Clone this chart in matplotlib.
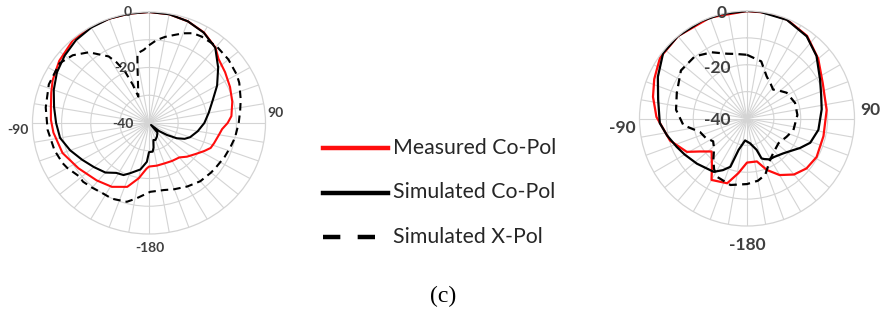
import numpy as np
import matplotlib
matplotlib.use("Agg")
import matplotlib.pyplot as plt
from matplotlib.lines import Line2D

W, H = 883, 321

# ---- left pattern (angles in deg, clockwise from top; values in dB) ----
l_meas_ang = [0, 10, 20, 30, 40, 46, 55, 65, 75, 85, 90, 95, 100, 108, 113, 118, 125,
              133, 140, 150, 160, 170, 180, 183, 190, 198, 209, 221, 236, 250, 264,
              272, 280, 288, 295, 306, 319, 330, 340, 350, 360]
l_meas_db = [0, -0.2, -1.0, -2.3, -4.5, -6.8, -8.1, -9.3, -10.4, -11.6, -13.0, -14.8,
             -15.6, -16.5, -17.0, -18.5, -20.5, -22.2, -23.8, -24.2, -24.5, -24.4, -24.3,
             -23.5, -19.8, -15.8, -13.7, -12.6, -10.8, -8.4, -7.0, -6.3, -5.8, -4.7,
             -3.5, -1.9, -0.3, 0, 0, 0, 0]

l_sim_ang = [0, 10, 20, 30, 40, 50, 60, 70, 80, 90, 100, 110, 115, 120, 125, 130, 135,
             140, 150, 160, 166, 170, 173, 180, 183, 190, 200, 205, 212, 220, 230, 240,
             250, 260, 270, 280, 290, 300, 310, 320, 330, 340, 350, 360]
l_sim_db = [0, -0.2, -1.0, -2.4, -4.6, -9.0, -13.0, -16.8, -19.2, -21.0, -23.0, -25.0,
            -26.5, -29.0, -32.5, -35.5, -39.0, -35.5, -34.5, -33.5, -33.7, -31.0, -29.6,
            -29.5, -26.0, -23.0, -20.7, -19.3, -18.8, -16.7, -15.3, -13.5, -11.2, -9.0,
            -8.1, -6.9, -5.2, -3.5, -2.2, -1.0, -0.3, 0, 0, 0]

l_xpol_ang = [0, 5, 10, 15, 20, 25, 30, 40, 50, 60, 65, 75, 82, 90, 100, 107, 115, 125,
              130, 140, 150, 160, 168, 179, 189, 195, 205, 212, 220, 227, 231, 240, 244,
              253, 266, 279, 292, 305, 313, 321, 330, 333, 336, 338, 339, 344, 349, 351,
              356, 360]
l_xpol_db = [-12.0, -10.0, -8.5, -7.2, -5.6, -4.3, -4.0, -3.9, -4.4, -5.2, -5.8, -7.4,
             -8.4, -9.2, -10.0, -10.7, -11.3, -12.0, -12.2, -12.6, -13.6, -14.6, -15.3,
             -15.2, -12.5, -10.6, -9.9, -10.1, -9.6, -9.0, -9.3, -7.6, -7.0, -6.1, -5.1,
             -4.1, -2.9, -2.5, -4.2, -7.2, -12.3, -15.5, -19.5, -25.0, -29.8, -26.4,
             -19.3, -14.6, -13.6, -12.0]

# ---- right pattern ----
r_meas_ang = [0, 10, 22, 36, 50, 65, 84, 103, 119, 130, 140, 150, 159, 167, 180, 189,
              197, 210, 216, 227, 235, 241, 254, 271, 283, 293, 305, 320, 340, 360]
r_meas_db = [0, 0, -0.3, -2.0, -5.4, -8.9, -10.2, -10.8, -10.4, -11.1, -12.8, -15.7,
             -19.5, -23.6, -23.6, -19.4, -14.8, -13.6, -17.8, -22.0, -18.6, -14.4, -10.2,
             -6.3, -4.1, -2.5, -0.5, 0, 0, 0]

r_sim_ang = [0, 7, 22, 36, 48, 62, 72, 83, 99, 111, 119, 126, 134, 145, 151, 157, 160,
             163, 173, 185, 195, 199, 205, 212, 228, 240, 248, 258, 267, 282, 295, 308,
             320, 335, 346, 360]
r_sim_db = [0, 0, -0.4, -2.2, -5.2, -9.2, -11.0, -12.0, -13.1, -14.8, -17.4, -19.6,
            -21.3, -22.5, -22.6, -23.6, -24.2, -27.8, -30.7, -31.8, -27.9, -21.0, -18.8,
            -16.6, -14.9, -13.2, -11.8, -9.6, -7.5, -6.2, -3.4, -0.4, 0, 0, 0, 0]

r_xpol_ang = [0, 14, 25, 35, 42, 50, 57, 72, 86, 104, 115, 128, 140, 150, 162, 170, 180,
              194, 207, 213, 219, 228, 236, 245, 254, 264, 277, 290, 306, 320, 332, 343,
              350, 360]
r_xpol_db = [-16.3, -18.1, -22.7, -24.5, -25.5, -24.0, -22.4, -21.2, -21.2, -22.2, -23.8,
             -25.1, -24.2, -22.6, -18.0, -16.5, -15.6, -14.5, -15.6, -17.5, -20.1, -23.5,
             -24.8, -23.0, -21.8, -16.2, -13.4, -12.2, -9.6, -9.8, -12.1, -14.8, -15.6,
             -16.3]

legend_labels = ["Measured Co-Pol", "Simulated Co-Pol", "Simulated X-Pol"]
RED = "#ff0d0d"
GRID = "#d4d4d4"
LBL = "#3f3f3f"

plt.rcParams["font.family"] = ["Lato", "DejaVu Sans"]

fig = plt.figure(figsize=(W / 100, H / 100), dpi=100)


def px(x, y):
    return x / W, 1 - y / H


def polar_axes(cx, cy, rx, ry):
    ax = fig.add_axes([(cx - rx) / W, 1 - (cy + ry) / H, 2 * rx / W, 2 * ry / H],
                      projection="polar")
    ax.set_aspect("auto")
    ax.set_theta_zero_location("N")
    ax.set_theta_direction(-1)
    ax.set_ylim(-40, 0)
    ax.set_thetagrids(np.arange(0, 360, 10), labels=[])
    ax.set_rgrids([-30, -20, -10], labels=[])
    ax.grid(True, color=GRID, linewidth=0.8)
    ax.spines["polar"].set_color(GRID)
    ax.spines["polar"].set_linewidth(0.9)
    ax.tick_params(length=0)
    ax.set_facecolor("none")
    return ax


def draw(ax, meas, sim, xpol, lw):
    ax.plot(np.deg2rad(meas[0]), meas[1], color=RED, lw=lw)
    ax.plot(np.deg2rad(sim[0]), sim[1], color="black", lw=lw)
    ax.plot(np.deg2rad(xpol[0]), xpol[1], color="black", lw=lw,
            linestyle=(0, (3.6, 2.4)))


ax1 = polar_axes(149, 123, 116.5, 111)
draw(ax1, (l_meas_ang, l_meas_db), (l_sim_ang, l_sim_db), (l_xpol_ang, l_xpol_db), 1.5)

ax2 = polar_axes(747, 118.5, 107.5, 107.5)
draw(ax2, (r_meas_ang, r_meas_db), (r_sim_ang, r_sim_db), (r_xpol_ang, r_xpol_db), 1.6)

# axis labels, placed as in the reference
for txt, x, y in [("0", 128, 12), ("-20", 125, 68), ("-40", 123, 124),
                  ("90", 275, 113), ("-90", 18, 130), ("-180", 150, 248)]:
    fig.text(*px(x, y), txt, ha="center", va="center", fontsize=10,
             fontweight="bold", color=LBL)

for txt, x, y in [("0", 722, 13), ("-20", 717, 68), ("-40", 717, 120),
                  ("90", 870, 110), ("-90", 622, 128), ("-180", 747, 245)]:
    fig.text(*px(x, y), txt, ha="center", va="center", fontsize=12.5,
             fontweight="bold", color=LBL)

# legend in the middle
styles = [dict(color=RED, lw=3.2), dict(color="black", lw=3.2),
          dict(color="black", lw=3.2, linestyle=(0, (3.9, 3.9)))]
for i, (lab, st) in enumerate(zip(legend_labels, styles)):
    y = 148 + i * 44.5
    x0, y0 = px(323, y)
    x1, _ = px(388, y)
    fig.add_artist(Line2D([x0, x1], [y0, y0], transform=fig.transFigure, **st))
    fig.text(*px(393, y), lab, ha="left", va="center", fontsize=15.3, color="#262626")

fig.text(*px(443, 296), "(c)", ha="center", va="center", fontsize=17,
         family="Liberation Serif", color="black")

fig.savefig("out.png", dpi=100)
